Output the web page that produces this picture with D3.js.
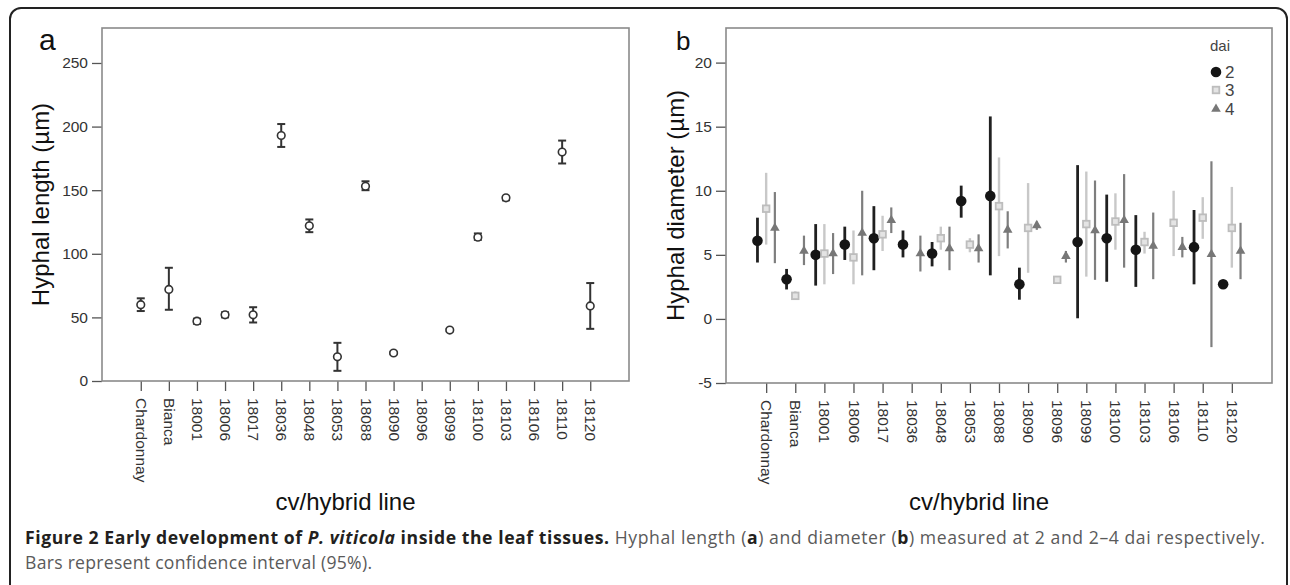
<!DOCTYPE html>
<html>
<head>
<meta charset="utf-8">
<script src="https://cdn.jsdelivr.net/npm/d3@7"></script>
<style>
  body { margin: 0; background: #fff; }
  svg { display: block; }
  .tick text { font-family: "Liberation Sans", Arial, sans-serif; }
</style>
</head>
<body>
<svg id="fig" width="1290" height="585"></svg>
<script>
// categories shared by both panels
var cats = ["Chardonnay", "Bianca", "18001", "18006", "18017", "18036", "18048", "18053",
  "18088", "18090", "18096", "18099", "18100", "18103", "18106", "18110", "18120"];

// panel a: hyphal length at 2 dai (mean, 95% CI)
var lenMean = [60, 72, 47, 52, 52, 193, 122, 19, 153, 22, null, 40, 113, 144, null, 180, 59];
var lenLo   = [55, 56, 45, 50, 46, 184, 117, 8, 150, 21, null, 39, 111, 142, null, 171, 41];
var lenHi   = [65, 89, 49, 54, 58, 202, 127, 30, 157, 23, null, 41, 116, 145, null, 189, 77];
var lenTicks = [0, 50, 100, 150, 200, 250];

// panel b: hyphal diameter at 2, 3, 4 dai
var dai = ["2", "3", "4"];
var d2Mean = [6.1, 3.1, 5.0, 5.8, 6.3, 5.8, 5.1, 9.2, 9.6, 2.7, null, 6.0, 6.3, 5.4, null, 5.6, 2.7];
var d2Lo   = [4.4, 2.3, 2.6, 4.6, 3.8, 4.8, 4.1, 7.9, 3.4, 1.5, null, 0.05, 2.9, 2.5, null, 2.7, 2.7];
var d2Hi   = [7.9, 3.9, 7.4, 7.2, 8.8, 6.9, 6.0, 10.4, 15.8, 4.0, null, 12.0, 9.7, 8.1, null, 8.5, 2.7];
var d3Mean = [8.6, 1.8, 5.1, 4.8, 6.6, null, 6.3, 5.8, 8.8, 7.1, 3.05, 7.4, 7.6, 6.0, 7.5, 7.9, 7.1];
var d3Lo   = [5.8, 1.5, 2.7, 2.7, 5.3, null, 5.4, 5.2, 4.9, 3.6, 3.05, 3.3, 5.4, 5.1, 4.9, 6.25, 4.0];
var d3Hi   = [11.4, 2.15, 7.4, 6.9, 8.05, null, 7.2, 6.3, 12.6, 10.6, 3.05, 11.5, 9.8, 6.8, 10.0, 9.5, 10.3];
var d4Mean = [7.1, 5.3, 5.1, 6.7, 7.7, 5.1, 5.5, 5.5, 6.95, 7.3, 4.9, 6.9, 7.7, 5.7, 5.6, 5.05, 5.3];
var d4Lo   = [4.35, 4.2, 3.5, 3.4, 6.7, 3.7, 3.8, 4.4, 5.5, 6.95, 4.4, 3.05, 4.0, 3.1, 4.8, -2.2, 3.1];
var d4Hi   = [9.9, 6.5, 6.7, 10.0, 8.7, 6.5, 7.2, 6.6, 8.4, 7.6, 5.3, 10.8, 11.3, 8.3, 6.4, 12.3, 7.5];
var diamTicks = [-5, 0, 5, 10, 15, 20];

var svg = d3.select("#fig");
var font = "'Liberation Sans', Arial, sans-serif";

// outer rounded frame
svg.append("rect")
  .attr("x", 10).attr("y", 8)
  .attr("width", 1277).attr("height", 700)
  .attr("rx", 11)
  .attr("fill", "none")
  .attr("stroke", "#222")
  .attr("stroke-width", 2);

function panel(left, right, top, bottom, yDomain, ticks, yTitle, titleX) {
  var x = d3.scalePoint().domain(cats).range([left, right]).padding(1.38);
  var y = d3.scaleLinear().domain(yDomain).range([bottom, top]);

  var gy = svg.append("g")
    .attr("transform", "translate(" + left + ",0)")
    .call(d3.axisLeft(y).tickValues(ticks).tickSize(10).tickSizeOuter(0).tickPadding(4)
      .tickFormat(function(d) { return String(d); }));
  gy.select(".domain").remove();
  gy.selectAll("line").attr("stroke", "#555").attr("stroke-width", 1.3);
  gy.selectAll("text").attr("font-size", 15.5).attr("fill", "#333");

  var gx = svg.append("g")
    .attr("transform", "translate(0," + bottom + ")")
    .call(d3.axisBottom(x).tickSize(10).tickSizeOuter(0));
  gx.select(".domain").remove();
  gx.selectAll("line").attr("stroke", "#555").attr("stroke-width", 1.3);
  gx.selectAll("text")
    .attr("font-size", 15.5)
    .attr("fill", "#333")
    .attr("transform", "rotate(90)")
    .attr("text-anchor", "start")
    .attr("x", 17)
    .attr("y", 0)
    .attr("dy", "0.35em");

  svg.append("rect")
    .attr("x", left).attr("y", top)
    .attr("width", right - left).attr("height", bottom - top)
    .attr("fill", "none")
    .attr("stroke", "#8a8a8a")
    .attr("stroke-width", 1.6);

  svg.append("text")
    .attr("transform", "translate(" + titleX + "," + ((top + bottom) / 2) + ") rotate(-90)")
    .attr("text-anchor", "middle")
    .attr("font-family", font)
    .attr("font-size", 24)
    .attr("fill", "#111")
    .text(yTitle);

  svg.append("text")
    .attr("x", (left + right) / 2 - 20)
    .attr("y", 510)
    .attr("text-anchor", "middle")
    .attr("font-family", font)
    .attr("font-size", 24)
    .attr("fill", "#111")
    .text("cv/hybrid line");

  return { x: x, y: y };
}

// ---- panel a ----
var pa = panel(102, 629, 28, 381, [0, 277.5], lenTicks, "Hyphal length (\u00b5m)", 49);
var lenData = cats.map(function(c, i) {
  return { cat: c, m: lenMean[i], lo: lenLo[i], hi: lenHi[i] };
}).filter(function(d) { return d.m != null; });

var ea = svg.append("g").selectAll("g").data(lenData).enter().append("g");
ea.append("line")
  .attr("x1", function(d) { return pa.x(d.cat); })
  .attr("x2", function(d) { return pa.x(d.cat); })
  .attr("y1", function(d) { return pa.y(d.lo); })
  .attr("y2", function(d) { return pa.y(d.hi); })
  .attr("stroke", "#333").attr("stroke-width", 2);
["lo", "hi"].forEach(function(k) {
  ea.append("line")
    .attr("x1", function(d) { return pa.x(d.cat) - 4; })
    .attr("x2", function(d) { return pa.x(d.cat) + 4; })
    .attr("y1", function(d) { return pa.y(d[k]); })
    .attr("y2", function(d) { return pa.y(d[k]); })
    .attr("stroke", "#333").attr("stroke-width", 2);
});
ea.append("circle")
  .attr("cx", function(d) { return pa.x(d.cat); })
  .attr("cy", function(d) { return pa.y(d.m); })
  .attr("r", 3.8)
  .attr("fill", "#fff")
  .attr("stroke", "#333")
  .attr("stroke-width", 1.6);

svg.append("text")
  .attr("x", 39).attr("y", 50)
  .attr("font-family", font).attr("font-size", 30).attr("fill", "#111")
  .text("a");

// ---- panel b ----
var pb = panel(726, 1272, 28, 383, [-5, 22.7], diamTicks, "Hyphal diameter (\u00b5m)", 684);

var series = [
  { key: "2", mean: d2Mean, lo: d2Lo, hi: d2Hi, off: -8.7, bar: "#202020", bw: 2.8 },
  { key: "3", mean: d3Mean, lo: d3Lo, hi: d3Hi, off: 0, bar: "#c8c8c8", bw: 2.4 },
  { key: "4", mean: d4Mean, lo: d4Lo, hi: d4Hi, off: 8.7, bar: "#7e7e7e", bw: 2.2 }
];

var symDot = d3.symbol().type(d3.symbolCircle).size(88);
var symTri = d3.symbol().type(d3.symbolTriangle).size(40);

function marker(sel, key) {
  if (key === "2") {
    sel.append("path").attr("d", symDot).attr("fill", "#151515");
  } else if (key === "3") {
    sel.append("rect")
      .attr("x", -3.3).attr("y", -3.3).attr("width", 6.6).attr("height", 6.6)
      .attr("fill", "#e4e4e4").attr("stroke", "#bdbdbd").attr("stroke-width", 1.8);
  } else {
    sel.append("path").attr("d", symTri).attr("fill", "#777");
  }
}

series.forEach(function(s) {
  var rows = cats.map(function(c, i) {
    return { cat: c, m: s.mean[i], lo: s.lo[i], hi: s.hi[i] };
  }).filter(function(d) { return d.m != null; });

  var g = svg.append("g");
  g.selectAll("line").data(rows).enter().append("line")
    .attr("x1", function(d) { return pb.x(d.cat) + s.off; })
    .attr("x2", function(d) { return pb.x(d.cat) + s.off; })
    .attr("y1", function(d) { return pb.y(d.lo); })
    .attr("y2", function(d) { return pb.y(d.hi); })
    .attr("stroke", s.bar).attr("stroke-width", s.bw);

  g.selectAll("g.m").data(rows).enter().append("g")
    .attr("class", "m")
    .attr("transform", function(d) {
      return "translate(" + (pb.x(d.cat) + s.off) + "," + pb.y(d.m) + ")";
    })
    .each(function() { marker(d3.select(this), s.key); });
});

svg.append("text")
  .attr("x", 676).attr("y", 50)
  .attr("font-family", font).attr("font-size", 26).attr("fill", "#111")
  .text("b");

// legend
var leg = svg.append("g").attr("transform", "translate(1210,0)");
leg.append("text")
  .attr("x", 0).attr("y", 51)
  .attr("font-family", font).attr("font-size", 15).attr("fill", "#444")
  .text("dai");
var legY = [72, 90, 109];
dai.forEach(function(k, i) {
  var item = leg.append("g").attr("transform", "translate(6," + legY[i] + ")");
  marker(item, k);
  item.append("text")
    .attr("x", 9).attr("y", 6)
    .attr("font-family", font).attr("font-size", 17).attr("fill", "#444")
    .text(k);
});

// caption (two lines, stretched to the reference widths)
var capSize = 17.6;
var cap = svg.append("text")
  .attr("x", 25).attr("y", 544)
  .attr("font-family", "'Open Sans', sans-serif")
  .attr("font-size", capSize)
  .attr("fill", "#5a5a5a")
  .attr("textLength", 1240)
  .attr("lengthAdjust", "spacing");
cap.append("tspan").attr("font-weight", "bold").attr("fill", "#231f20")
  .text("Figure 2 Early development of ");
cap.append("tspan").attr("font-weight", "bold").attr("font-style", "italic").attr("fill", "#231f20")
  .text("P. viticola");
cap.append("tspan").attr("font-weight", "bold").attr("fill", "#231f20")
  .text(" inside the leaf tissues.");
cap.append("tspan").text(" Hyphal length (");
cap.append("tspan").attr("font-weight", "bold").attr("fill", "#231f20").text("a");
cap.append("tspan").text(") and diameter (");
cap.append("tspan").attr("font-weight", "bold").attr("fill", "#231f20").text("b");
cap.append("tspan").text(") measured at 2 and 2\u20134 dai respectively.");

svg.append("text")
  .attr("x", 25).attr("y", 569)
  .attr("font-family", "'Open Sans', sans-serif")
  .attr("font-size", capSize)
  .attr("fill", "#5a5a5a")
  .attr("textLength", 347)
  .attr("lengthAdjust", "spacing")
  .text("Bars represent confidence interval (95%).");
</script>
</body>
</html>
